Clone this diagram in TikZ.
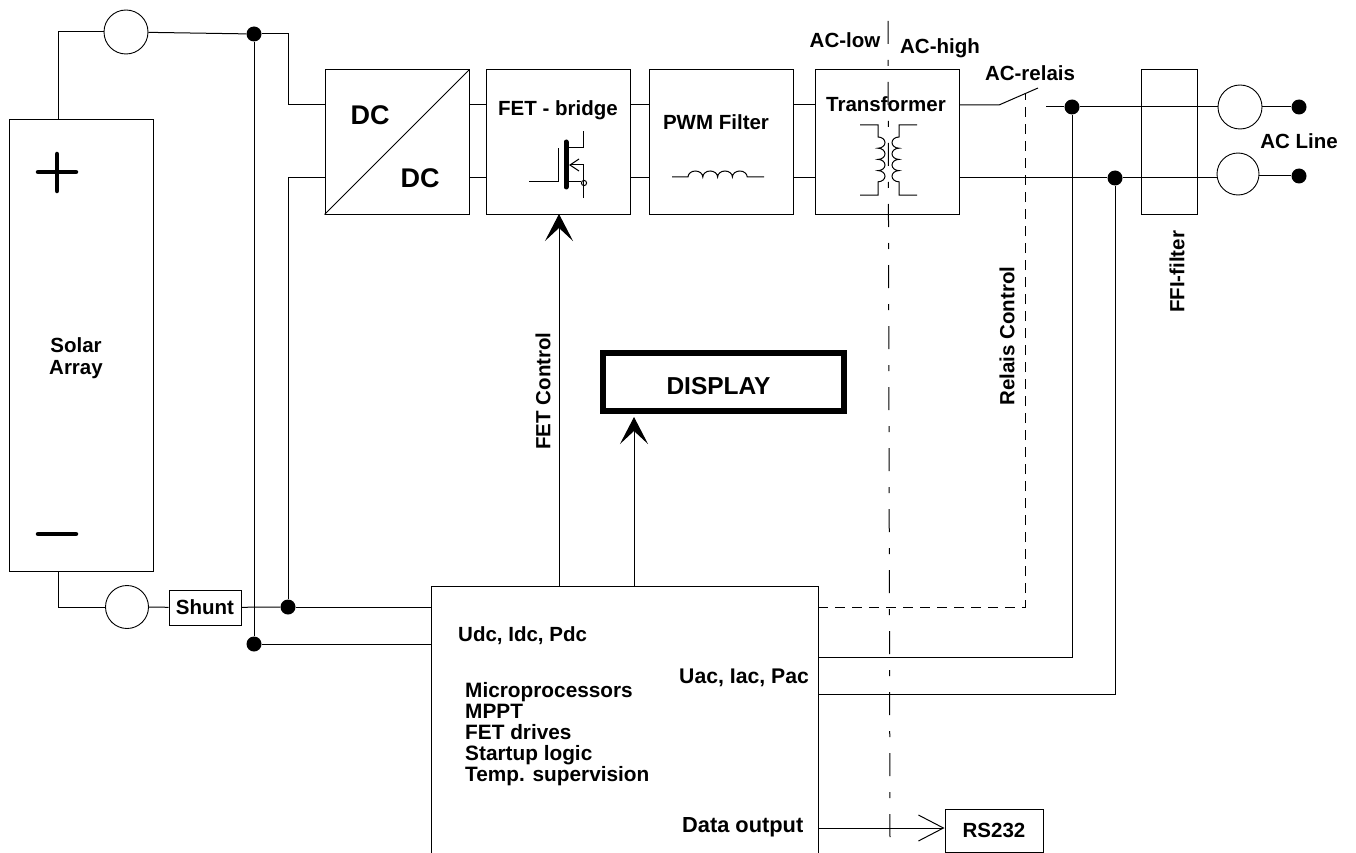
\documentclass[tikz,border=0pt]{standalone}
\usepackage{fontspec}
\setmainfont{Liberation Sans}
\usetikzlibrary{arrows.meta,calc}
\newcommand{\lblfont}{\fontsize{20.5}{21}\selectfont\bfseries}
\newcommand{\listfont}{\fontsize{20.8}{21}\selectfont\bfseries}
\tikzset{
  wire/.style={line width=1pt,draw=black},
  blockbox/.style={rectangle,draw=black,line width=1pt,inner sep=0pt},
  lbl/.style={draw=none,inner sep=0pt,font=\lblfont,align=center},
  meter/.style={circle,draw=black,line width=0.9pt,inner sep=0pt},
  junction/.style={circle,fill=black,inner sep=0pt,minimum size=15pt},
  bigarrow/.style={wire,-{Stealth[length=27pt,width=28pt,inset=13pt]}},
  dashwire/.style={wire,dash pattern=on 10pt off 7pt},
  isoline/.style={wire,dash pattern=on 23pt off 16pt on 6pt off 16pt}
}
\begin{document}
\begin{tikzpicture}[x=1pt,y=-1pt]
\useasboundingbox (0,0) rectangle (1356,853);
% rails
\coordinate (hi) at (0,105);
\coordinate (lo) at (0,178);
% blocks
\node[blockbox,minimum width=144pt,minimum height=451pt] (solar) at (81,345.5) {};
\node[blockbox,minimum width=144pt,minimum height=144pt] (dcdc) at (397,142) {};
\node[blockbox,minimum width=144pt,minimum height=144pt] (fet) at (558,142) {};
\node[blockbox,minimum width=144pt,minimum height=144pt] (pwm) at (721,142) {};
\node[blockbox,minimum width=144pt,minimum height=144pt] (xfmr) at (887,142) {};
\node[blockbox,minimum width=56pt,minimum height=144pt] (ffi) at (1169,142) {};
\node[blockbox,minimum width=72pt,minimum height=35pt,font=\lblfont] (shunt) at (205,607.5) {Shunt};
\node[blockbox,minimum width=98pt,minimum height=43pt,font=\lblfont] (rs) at (994,830.5) {RS232};
\node[blockbox,line width=6pt,minimum width=241pt,minimum height=58pt] (display) at (723.5,382) {};
% control board, open at the bottom
\coordinate (ctrlbl) at (431,853);
\coordinate (ctrltl) at (431,586);
\coordinate (ctrltr) at (818,586);
\coordinate (ctrlbr) at (818,853);
\draw[wire] (ctrlbl) -- (ctrltl) -- (ctrltr) -- (ctrlbr);
% meters and dots
\node[meter,minimum size=44pt] (mtop) at (126,32) {};
\node[meter,minimum size=43pt] (mbot) at (127,607) {};
\node[meter,minimum size=44pt] (mac) at (1240,107) {};
\node[meter,minimum size=42pt] (mn) at (1238,174) {};
\node[junction] (jtop) at (254,34) {};
\node[junction] (jneg) at (288,607) {};
\node[junction] (jsense) at (254,644) {};
\node[junction] (jl) at (1072,107) {};
\node[junction] (jn) at (1115,178) {};
\node[junction] (acl) at (1299,107) {};
\node[junction] (acn) at (1299,176) {};
% DC side
\draw[wire] ($(solar.north west)!0.347!(solar.north east)$) |- (mtop);
\draw[wire] (mtop) -- (jtop);
\draw[wire] (jtop) -| (288,105) -- (dcdc.west |- hi);
\draw[wire] (jtop) -- (jsense);
\draw[wire] ($(solar.south west)!0.347!(solar.south east)$) |- (mbot);
\draw[wire] (mbot) -- (shunt);
\draw[wire] (shunt) -- (jneg);
\draw[wire] (jneg) -- (jneg -| ctrltl);
\draw[wire] (jsense) -- (jsense -| ctrltl);
\draw[wire] (jneg) |- (dcdc.west |- lo);
\draw[wire] (dcdc.south west) -- (dcdc.north east);
% chain
\foreach \rail in {hi,lo} {
  \draw[wire] (dcdc.east |- \rail) -- (fet.west |- \rail);
  \draw[wire] (fet.east |- \rail) -- (pwm.west |- \rail);
  \draw[wire] (pwm.east |- \rail) -- (xfmr.west |- \rail);
}
% AC side
\coordinate (relaya) at (999,105);
\coordinate (relayb) at (1038,88);
\coordinate (relayc) at (1046,107);
\draw[wire] (xfmr.east |- relaya) -- (relaya) -- (relayb);
\draw[wire] (relayc) -- (jl);
\draw[wire] (jl) -- (mac);
\draw[wire] (mac) -- (acl);
\draw[wire] (xfmr.east |- jn) -- (jn);
\draw[wire] (jn) -- (jn -| mn.west);
\draw[wire] (mn.east |- acn) -- (acn);
% sensing and control
\coordinate (sensel) at (818,657);
\coordinate (sensen) at (818,694);
\coordinate (relayctl) at (818,607);
\coordinate (relayup) at (1025,93);
\draw[wire] (sensel) -| (jl);
\draw[wire] (sensen) -| (jn);
\draw[dashwire] (relayctl) -| (relayup);
\draw[bigarrow] (559,586) -- (559,214);
\draw[bigarrow] (634,586) -- (634,417);
\draw[wire,-{Straight Barb[length=25pt,width=26pt]}] (818,828) -- (rs.west |- 0,828);
\draw[isoline] (888,21) -- (890,842);
% plus and minus
\draw[line width=4.5pt,line cap=round] (38,172) -- (76,172) (57,154) -- (57,191);
\draw[line width=4.5pt,line cap=round] (38,534) -- (76,534);
% FET symbol
\draw[line width=5pt,line cap=round] (566,142) -- (566,187);
\draw[wire] (529,182) -- (558,182) -- (558,148);
\draw[wire] (566,148) -- (583,148) -- (583,131);
\draw[wire] (583,198) -- (583,165) -- (570,165);
\draw[wire] (579,159) -- (570,165) -- (579,171);
\draw[wire] (566,182) -- (581,182);
\draw[wire] (584,183) circle (2.6pt);
% inductor
\draw[wire] (672,177) -- (688,177)
  arc[start angle=180,end angle=0,x radius=7.4pt,y radius=6pt]
  arc[start angle=180,end angle=0,x radius=7.4pt,y radius=6pt]
  arc[start angle=180,end angle=0,x radius=7.4pt,y radius=6pt]
  arc[start angle=180,end angle=0,x radius=7.4pt,y radius=6pt]
  -- (764,177);
% transformer windings
\draw[wire] (860,125) -- (878,125) -- (878,137)
  arc[start angle=90,end angle=-90,x radius=7pt,y radius=5.6pt]
  arc[start angle=90,end angle=-90,x radius=7pt,y radius=5.6pt]
  arc[start angle=90,end angle=-90,x radius=7pt,y radius=5.6pt]
  arc[start angle=90,end angle=-90,x radius=7pt,y radius=5.6pt]
  -- (878,195) -- (860,195);
\draw[wire] (917,125) -- (899,125) -- (899,137)
  arc[start angle=90,end angle=270,x radius=7pt,y radius=5.6pt]
  arc[start angle=90,end angle=270,x radius=7pt,y radius=5.6pt]
  arc[start angle=90,end angle=270,x radius=7pt,y radius=5.6pt]
  arc[start angle=90,end angle=270,x radius=7pt,y radius=5.6pt]
  -- (899,195) -- (917,195);
% labels
\node[lbl] (tsolar) at (76,358) {Solar\\[1pt]Array};
\node[lbl,font=\fontsize{27}{29}\selectfont\bfseries] (tdc1) at (370,115) {DC};
\node[lbl,font=\fontsize{27}{29}\selectfont\bfseries] (tdc2) at (420,178) {DC};
\node[lbl,font=\fontsize{24.5}{26}\selectfont\bfseries] (tdisp) at (718.5,386) {DISPLAY};
\node[lbl] (tfet) at (558,110) {FET - bridge};
\node[lbl] (tpwm) at (716,122) {PWM Filter};
\node[lbl] (txfmr) at (886,104) {Transformer};
\node[lbl] (tlow) at (845,40) {AC-low};
\node[lbl] (thigh) at (940,48) {AC-high};
\node[lbl] (trelay) at (1030,73) {AC-relais};
\node[lbl] (tline) at (1299,141) {AC Line};
\node[lbl,rotate=90] (tffi) at (1177,272) {FFI-filter};
\node[lbl,rotate=90] (tfetc) at (543,391) {FET Control};
\node[lbl,rotate=90] (trelc) at (1007,336) {Relais Control};
\node[lbl,anchor=west] (tudc) at (458,636) {Udc, Idc, Pdc};
\node[lbl,anchor=west,font=\fontsize{21.2}{22}\selectfont\bfseries] (tuac) at (679,678) {Uac, Iac, Pac};
\node[lbl,anchor=west,font=\fontsize{21.8}{23}\selectfont\bfseries] (tdata) at (682,827) {Data output};
\node[lbl,anchor=north west,align=left,font=\listfont] (tlist) at (465,682) {Microprocessors\\MPPT\\FET drives\\Startup logic\\Temp. supervision};
\end{tikzpicture}
\end{document}
